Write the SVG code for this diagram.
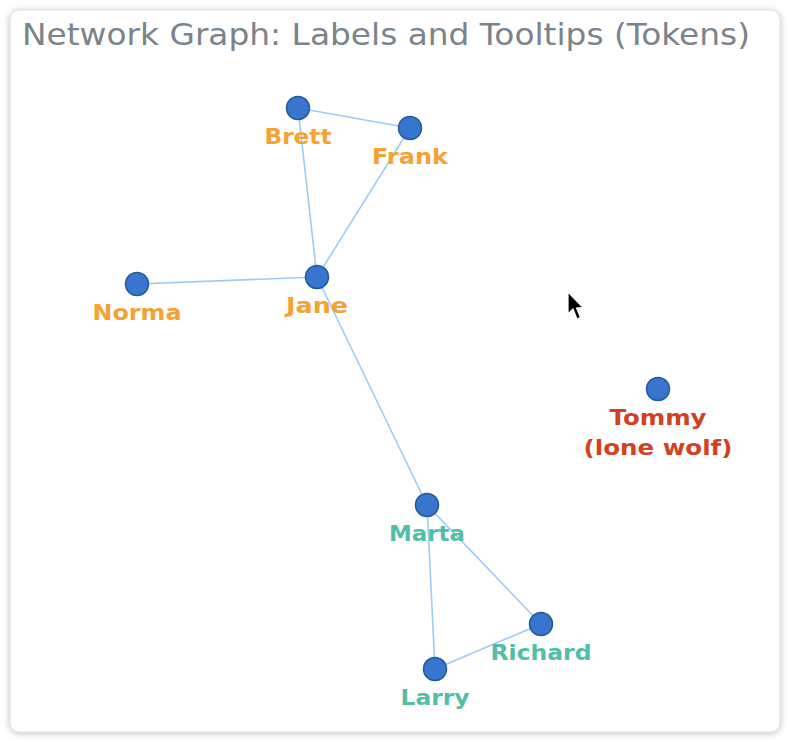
<svg xmlns="http://www.w3.org/2000/svg" width="790" height="742" viewBox="0 0 790 742">
<defs>
<filter id="sh" x="-5%" y="-5%" width="110%" height="110%">
<feDropShadow dx="0" dy="1" stdDeviation="3" flood-color="#000" flood-opacity="0.25"/>
</filter>
<style>
.edge{stroke:#9ecbf5;stroke-width:1.6;fill:none}
.node circle{fill:#3875cf;stroke:#24589a;stroke-width:1.5}
.lbl{font-family:"DejaVu Sans",Verdana,sans-serif;font-weight:bold;font-size:22px;text-anchor:middle}
.or{fill:#f4a236}
.te{fill:#52bea8}
.rd{fill:#d24222}
.title{font-family:"DejaVu Sans",Verdana,sans-serif;font-size:30px;fill:#7b838b}
</style>
</defs>
<rect width="790" height="742" fill="#ffffff"/>
<rect x="10" y="10" width="770" height="722" rx="9" fill="#ffffff" stroke="#dddddd" stroke-width="1" filter="url(#sh)"/>
<text class="title" x="22" y="45" textLength="728" lengthAdjust="spacingAndGlyphs">Network Graph: Labels and Tooltips (Tokens)</text>
<g id="connectors">
<line class="edge" x1="298" y1="108" x2="410" y2="128"/>
<line class="edge" x1="298" y1="108" x2="317" y2="277"/>
<line class="edge" x1="410" y1="128" x2="317" y2="277"/>
<line class="edge" x1="137" y1="284" x2="317" y2="277"/>
<line class="edge" x1="317" y1="277" x2="427" y2="505"/>
<line class="edge" x1="427" y1="505" x2="435" y2="669"/>
<line class="edge" x1="427" y1="505" x2="541" y2="624"/>
<line class="edge" x1="435" y1="669" x2="541" y2="624"/>
</g>
<g id="brett" class="node"><circle cx="298" cy="108" r="11.5"/><text class="lbl or" x="298" y="143.5" textLength="67" lengthAdjust="spacingAndGlyphs">Brett</text></g>
<g id="frank" class="node"><circle cx="410" cy="128" r="11.5"/><text class="lbl or" x="410" y="163.5" textLength="76" lengthAdjust="spacingAndGlyphs">Frank</text></g>
<g id="jane" class="node"><circle cx="317" cy="277" r="11.5"/><text class="lbl or" x="317" y="312.5" textLength="62" lengthAdjust="spacingAndGlyphs">Jane</text></g>
<g id="norma" class="node"><circle cx="137" cy="284" r="11.5"/><text class="lbl or" x="137" y="319.5" textLength="89" lengthAdjust="spacingAndGlyphs">Norma</text></g>
<g id="marta" class="node"><circle cx="427" cy="505" r="11.5"/><text class="lbl te" x="427" y="540.5" textLength="76" lengthAdjust="spacingAndGlyphs">Marta</text></g>
<g id="richard" class="node"><circle cx="541" cy="624" r="11.5"/><text class="lbl te" x="541" y="659.5" textLength="101" lengthAdjust="spacingAndGlyphs">Richard</text></g>
<g id="larry" class="node"><circle cx="435" cy="669" r="11.5"/><text class="lbl te" x="435" y="704.5" textLength="69" lengthAdjust="spacingAndGlyphs">Larry</text></g>
<g id="tommy" class="node"><circle cx="658" cy="389" r="11.5"/><text class="lbl rd" x="658" y="424.5" textLength="97" lengthAdjust="spacingAndGlyphs">Tommy</text><text class="lbl rd" x="658" y="454.5" textLength="149" lengthAdjust="spacingAndGlyphs">(lone wolf)</text></g>
<path d="M568,292 L568,314 L573,309 L577,319 L580.5,317.5 L576.5,308 L583,307.5 Z" fill="#000" stroke="#fff" stroke-width="1.2" stroke-linejoin="round"/>
</svg>
